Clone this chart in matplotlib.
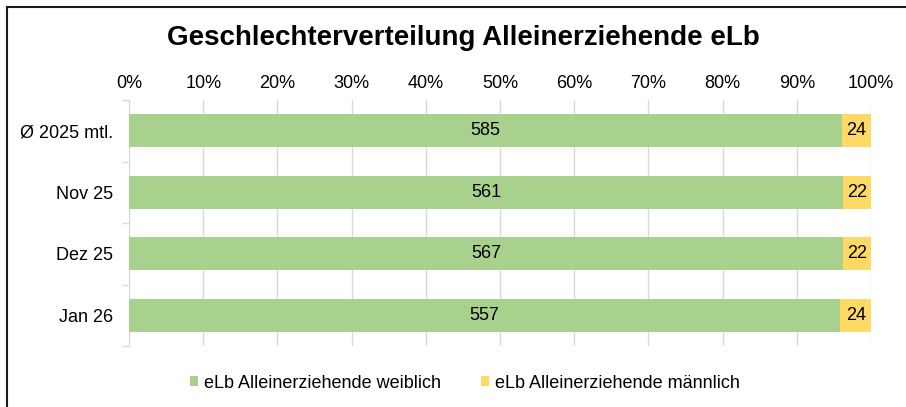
import numpy as np
import matplotlib.pyplot as plt
from matplotlib.lines import Line2D
from matplotlib.ticker import PercentFormatter

plt.rcParams['font.family'] = ['Liberation Sans', 'DejaVu Sans']

kategorien = ['Ø 2025 mtl.', 'Nov 25', 'Dez 25', 'Jan 26']
weiblich = [585, 561, 567, 557]
maennlich = [24, 22, 22, 24]
serien = ['eLb Alleinerziehende weiblich', 'eLb Alleinerziehende männlich']
farben = ['#A9D18E', '#FFD966']

w = np.array(weiblich, dtype=float)
m = np.array(maennlich, dtype=float)
summe = w + m
anteil_w = w / summe
anteil_m = m / summe

fig = plt.figure(figsize=(9.06, 4.07), dpi=100)
ax = fig.add_axes([129 / 906, 1 - 346 / 407, 742 / 906, 246 / 407])

y = np.arange(len(kategorien))
b1 = ax.barh(y, anteil_w, height=0.54, color=farben[0], label=serien[0], zorder=3)
b2 = ax.barh(y, anteil_m, left=anteil_w, height=0.54, color=farben[1], label=serien[1], zorder=3)

for i in range(len(kategorien)):
    ax.text(anteil_w[i] / 2, y[i], str(weiblich[i]), ha='center', va='center', fontsize=13, zorder=4)
    ax.text(anteil_w[i] + anteil_m[i] / 2, y[i], str(maennlich[i]), ha='center', va='center', fontsize=13, zorder=4)

ax.set_xlim(0, 1)
ax.set_ylim(len(kategorien) - 0.5, -0.5)
ax.xaxis.set_major_formatter(PercentFormatter(1.0, decimals=0))
ax.set_xticks(np.linspace(0, 1, 11))
ax.xaxis.tick_top()
ax.tick_params(axis='x', length=0, labelsize=13, pad=6)
ax.grid(axis='x', color='#D9D9D9', linewidth=1, zorder=0)

ax.set_yticks(y)
ax.set_yticklabels(kategorien, fontsize=13)
ax.set_yticks(np.arange(-0.5, len(kategorien), 1), minor=True)
ax.tick_params(axis='y', which='major', length=0, pad=11.5)
ax.tick_params(axis='y', which='minor', length=5, color='#D9D9D9', width=1)
for s in ['top', 'right', 'bottom']:
    ax.spines[s].set_visible(False)
ax.spines['left'].set_color('#D9D9D9')

fig.text(463 / 906, 1 - 38 / 407, 'Geschlechterverteilung Alleinerziehende eLb',
         ha='center', va='center', fontsize=20, fontweight='bold')

fig.legend(handles=[b1, b2], loc='center', bbox_to_anchor=(465 / 906, 1 - 383 / 407),
           ncol=2, frameon=False, fontsize=13, handlelength=0.45, handleheight=0.45,
           handletextpad=0.35, columnspacing=2.2)

# Rahmen oben und links
fig.add_artist(Line2D([7 / 906, 1], [1 - 6.5 / 407, 1 - 6.5 / 407], color='#1a1a1a', linewidth=1.5))
fig.add_artist(Line2D([7 / 906, 7 / 906], [0, 1 - 6.5 / 407], color='#1a1a1a', linewidth=1.5))

fig.savefig('out.png', dpi=100)
